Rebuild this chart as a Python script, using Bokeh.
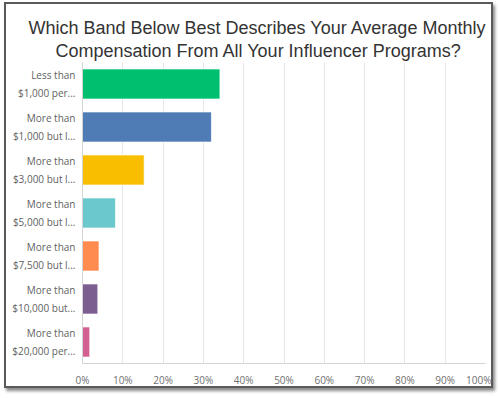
from bokeh.plotting import figure
from bokeh.models import ColumnDataSource, Range1d, FixedTicker, PrintfTickFormatter, Title
from bokeh.embed import file_html
from bokeh.resources import INLINE

title_lines = [
    "Which Band Below Best Describes Your Average Monthly",
    "Compensation From All Your Influencer Programs?",
]
categories = [
    "Less than\n$1,000 per...",
    "More than\n$1,000 but l...",
    "More than\n$3,000 but l...",
    "More than\n$5,000 but l...",
    "More than\n$7,500 but l...",
    "More than\n$10,000 but...",
    "More than\n$20,000 per...",
]
values = [34.1, 32.0, 15.3, 8.2, 4.1, 3.8, 1.8]
colors = ["#00BF6F", "#507CB6", "#F9BE00", "#6BC8CD", "#FF8B4F", "#7D5E90", "#D25F90"]
ticks = [0, 10, 20, 30, 40, 50, 60, 70, 80, 90, 100]

source = ColumnDataSource(dict(cat=categories, val=values, color=colors))

p = figure(
    width=489, height=386,
    y_range=list(reversed(categories)),
    x_range=Range1d(0, 100),
    output_backend="svg", toolbar_location=None,
    min_border_left=76, min_border_right=10, min_border_top=58, min_border_bottom=27,
)
p.styles = {"border": "2px solid #5a5a5a", "box-shadow": "2px 3px 3px #8a8a8a",
            "margin-left": "4px", "margin-top": "2px"}

# second line first: later titles stack further from the plot
p.add_layout(Title(text=title_lines[1], align="left", offset=-27, standoff=3,
                   text_font="Liberation Sans", text_font_size="18px",
                   text_font_style="normal", text_color="#333333"), "above")
p.add_layout(Title(text=title_lines[0], align="left", offset=-54, standoff=0,
                   text_font="Liberation Sans", text_font_size="18px",
                   text_font_style="normal", text_color="#333333"), "above")

p.hbar(y="cat", right="val", left=0, height=0.7, source=source,
       fill_color="color", line_color="white", line_alpha=0.7, line_width=1)

p.outline_line_color = None
p.ygrid.grid_line_color = None
p.xgrid.grid_line_color = "#e6e6e6"
p.xgrid.ticker = FixedTicker(ticks=ticks)

p.xaxis.ticker = FixedTicker(ticks=ticks)
p.xaxis.formatter = PrintfTickFormatter(format="%d%%")
p.xaxis.axis_line_color = "#d4d4d4"
p.xaxis.major_tick_line_color = None
p.xaxis.major_tick_out = 0
p.xaxis.minor_tick_line_color = None
p.xaxis.minor_tick_out = 0
p.xaxis.major_label_text_font = "Open Sans"
p.xaxis.major_label_text_font_size = "10px"
p.xaxis.major_label_text_color = "#6f6f6f"
p.xaxis.major_label_standoff = 9

p.yaxis.axis_line_color = "#d4d4d4"
p.yaxis.major_tick_line_color = None
p.yaxis.major_tick_out = 0
p.yaxis.minor_tick_line_color = None
p.yaxis.minor_tick_out = 0
p.yaxis.major_label_text_font = "Open Sans"
p.yaxis.major_label_text_font_size = "10px"
p.yaxis.major_label_text_color = "#5f5f5f"
p.yaxis.major_label_text_line_height = 1.33
p.yaxis.major_label_standoff = 7

open("out.html", "w").write(file_html(p, INLINE))
